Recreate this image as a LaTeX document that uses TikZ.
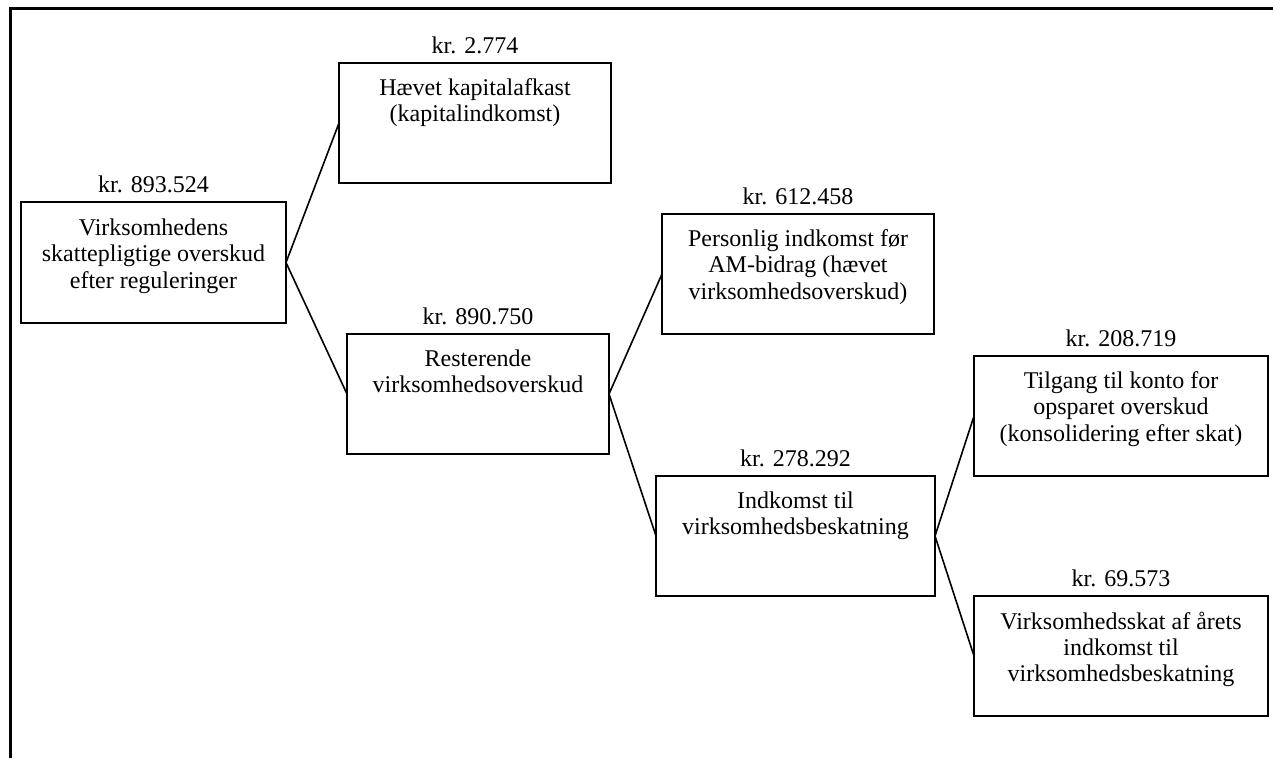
\documentclass[tikz,border=0pt]{standalone}
\usepackage{fontspec}
\setmainfont{Liberation Serif}
\begin{document}
\begin{tikzpicture}[x=0.75pt,y=-0.75pt,
  box/.style={draw=black, line width=1.3pt, rectangle, inner sep=0pt, outer sep=0pt, minimum height=90pt},
  txt/.style={anchor=north, align=center, inner sep=0pt, font=\fontsize{18}{19.7}\selectfont, execute at begin node=\strut},
  lbl/.style={anchor=base, inner sep=0pt, font=\fontsize{18}{19.7}\selectfont},
  conn/.style={draw=black, line width=1.2pt},
  frame/.style={draw=black, line width=1.9pt}]
\useasboundingbox (0,0) rectangle (1273,758);
\coordinate (fa) at (10.5,758);
\coordinate (fb) at (10.5,8.7);
\coordinate (fc) at (1273,8.7);
\draw[frame] (fa) -- (fb) -- (fc);

\node[box, minimum width=198.75pt, minimum height=90.75pt] (b1) at (153.5,262.5) {};
\node[box, minimum width=204pt] (b2) at (475,123) {};
\node[box, minimum width=196.5pt] (b3) at (478,394) {};
\node[box, minimum width=204pt] (b4) at (798,274) {};
\node[box, minimum width=209.25pt] (b5) at (795.5,536) {};
\node[box, minimum width=220.5pt] (b6) at (1121,416) {};
\node[box, minimum width=220.5pt] (b7) at (1121,656) {};

\node[txt] (t1) at ([yshift=-12.5pt]b1.north) {Virksomhedens\\skattepligtige overskud\\efter reguleringer};
\node[txt] (t2) at ([yshift=-11.6pt]b2.north) {Hævet kapitalafkast\\(kapitalindkomst)};
\node[txt] (t3) at ([yshift=-11.6pt]b3.north) {Resterende\\virksomhedsoverskud};
\node[txt] (t4) at ([yshift=-11.6pt]b4.north) {Personlig indkomst før\\AM-bidrag (hævet\\virksomhedsoverskud)};
\node[txt] (t5) at ([yshift=-11.6pt]b5.north) {Indkomst til\\virksomhedsbeskatning};
\node[txt] (t6) at ([yshift=-11.6pt]b6.north) {Tilgang til konto for\\opsparet overskud\\(konsolidering efter skat)};
\node[txt] (t7) at ([yshift=-11.6pt]b7.north) {Virksomhedsskat af årets\\indkomst til\\virksomhedsbeskatning};

\node[lbl] (l1) at ([yshift=7.1pt]b1.north) {kr. 893.524};
\node[lbl] (l2) at ([yshift=7.1pt]b2.north) {kr. 2.774};
\node[lbl] (l3) at ([yshift=7.1pt]b3.north) {kr. 890.750};
\node[lbl] (l4) at ([yshift=7.1pt]b4.north) {kr. 612.458};
\node[lbl] (l5) at ([yshift=7.1pt]b5.north) {kr. 278.292};
\node[lbl] (l6) at ([yshift=7.1pt]b6.north) {kr. 208.719};
\node[lbl] (l7) at ([yshift=7.1pt]b7.north) {kr. 69.573};

\draw[conn] (b1.east) -- (b2.west);
\draw[conn] (b1.east) -- (b3.west);
\draw[conn] (b3.east) -- (b4.west);
\draw[conn] (b3.east) -- (b5.west);
\draw[conn] (b5.east) -- (b6.west);
\draw[conn] (b5.east) -- (b7.west);
\end{tikzpicture}
\end{document}
